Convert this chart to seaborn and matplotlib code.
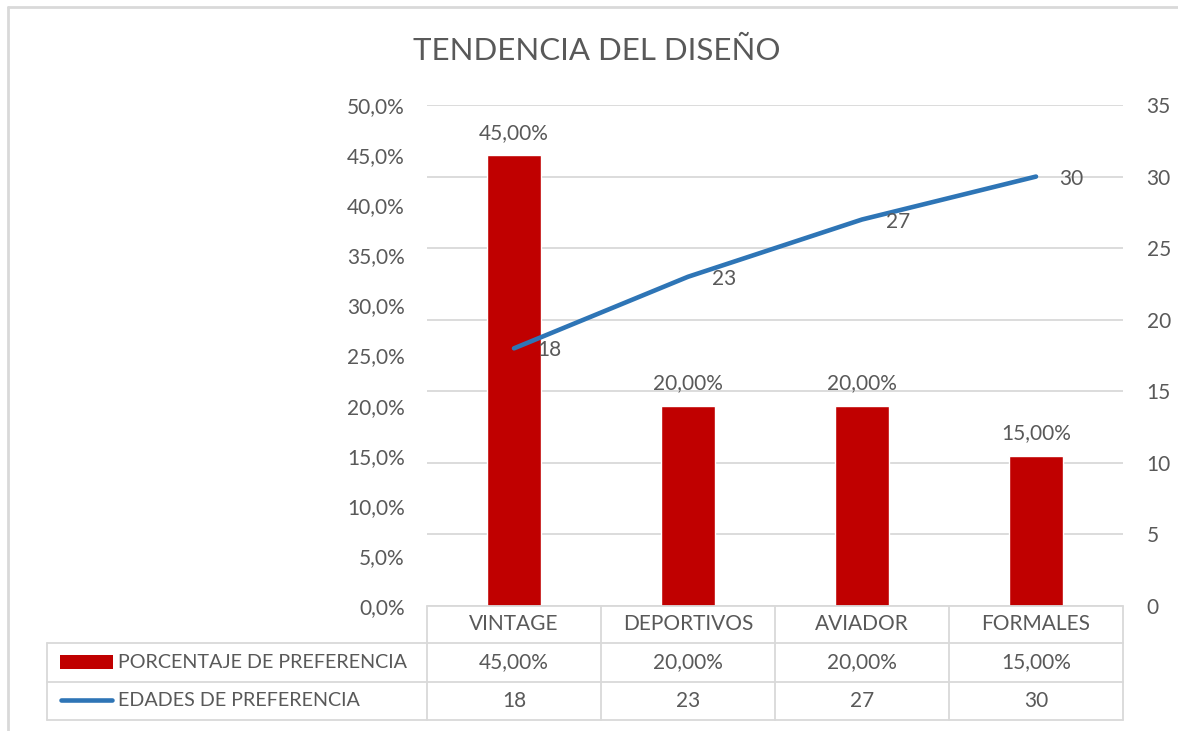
import matplotlib
matplotlib.use("Agg")
import matplotlib.pyplot as plt
import matplotlib.transforms as mtransforms
from matplotlib.lines import Line2D
from matplotlib.patches import Rectangle
import seaborn as sns
import pandas as pd

# data
categorias = ["VINTAGE", "DEPORTIVOS", "AVIADOR", "FORMALES"]
porcentaje = [0.45, 0.20, 0.20, 0.15]
edades = [18, 23, 27, 30]
serie_barras = "PORCENTAJE DE PREFERENCIA"
serie_linea = "EDADES DE PREFERENCIA"

df = pd.DataFrame({"cat": categorias, "pct": porcentaje, "edad": edades})

W, H = 1178, 731
ROJO = "#C00000"
AZUL = "#2E75B6"
GRIS = "#595959"
LINEA = "#D9D9D9"
FS = 15

sns.set_style("white")
plt.rcParams["font.family"] = ["Lato", "DejaVu Sans"]

fig = plt.figure(figsize=(W / 100, H / 100), dpi=100)

def fx(px):
    return px / W

def fy(py):
    return 1 - py / H

rect = [fx(427), fy(606), fx(1123) - fx(427), fy(105) - fy(606)]

# base axes only for the gridlines (right-axis scale)
axg = fig.add_axes(rect)
axg.set_ylim(0, 35)
axg.set_yticks(range(0, 36, 5))
axg.set_xticks([])
axg.tick_params(left=False, labelleft=False)
axg.grid(axis="y", color=LINEA, linewidth=1.3)
for s in axg.spines.values():
    s.set_visible(False)

# bars
ax = fig.add_axes(rect)
ax.patch.set_visible(False)
sns.barplot(data=df, x="cat", y="pct", color=ROJO, width=0.31, saturation=1, ax=ax)
ax.set_xlim(-0.5, 3.5)
ax.set_ylim(0, 0.5)
ax.set_yticks([i * 0.05 for i in range(11)])
ax.set_yticklabels([f"{t * 100:.1f}%".replace(".", ",") for t in ax.get_yticks()])
ax.tick_params(axis="y", length=0, pad=16, labelsize=FS, labelcolor=GRIS)
ax.set_xticks([])
ax.set_xlabel("")
ax.set_ylabel("")
for s in ax.spines.values():
    s.set_visible(False)
ax.bar_label(ax.containers[0],
             labels=[f"{v * 100:.2f}%".replace(".", ",") for v in porcentaje],
             padding=9, fontsize=FS, color=GRIS)

# line on secondary axis
ax2 = ax.twinx()
ax2.patch.set_visible(False)
sns.lineplot(data=df, x="cat", y="edad", color=AZUL, linewidth=3.3, ax=ax2,
             sort=False)
ax2.lines[0].set_solid_capstyle("round")
ax2.set_xlim(-0.5, 3.5)
ax2.set_ylim(0, 35)
ax2.set_yticks(range(0, 36, 5))
ax2.tick_params(axis="y", length=0, pad=17, labelsize=FS, labelcolor=GRIS)
ax2.set_xticks([])
ax2.set_xlabel("")
ax2.set_ylabel("")
for s in ax2.spines.values():
    s.set_visible(False)
for i, v in enumerate(edades):
    ax2.annotate(str(v), (i, v), xytext=(17, -1.5), textcoords="offset points",
                 ha="left", va="center", fontsize=FS, color=GRIS)

fig.text(fx(597), fy(51), "TENDENCIA DEL DISEÑO", ha="center", va="center",
         fontsize=22.5, color=GRIS)

# data table under the chart
mix = mtransforms.blended_transform_factory(ax.transData, fig.transFigure)
filas = [606, 643, 682, 720]
lw = 1.3
fig.add_artist(Line2D([fx(427), fx(1123)], [fy(606), fy(606)], color=LINEA, lw=lw))
for py in filas[1:]:
    fig.add_artist(Line2D([fx(47), fx(1123)], [fy(py), fy(py)], color=LINEA, lw=lw))
fig.add_artist(Line2D([fx(47), fx(47)], [fy(643), fy(720)], color=LINEA, lw=lw))
for xb in [-0.5, 0.5, 1.5, 2.5, 3.5]:
    fig.add_artist(Line2D([xb, xb], [fy(606), fy(720)], color=LINEA, lw=lw,
                          transform=mix))

centros = [(a + b) / 2 for a, b in zip(filas[:-1], filas[1:])]
for i, c in enumerate(categorias):
    fig.text(i, fy(centros[0]), c, transform=mix, ha="center", va="center",
             fontsize=FS, color=GRIS)
    fig.text(i, fy(centros[1]), f"{porcentaje[i] * 100:.2f}%".replace(".", ","),
             transform=mix, ha="center", va="center", fontsize=FS, color=GRIS)
    fig.text(i, fy(centros[2]), str(edades[i]), transform=mix, ha="center",
             va="center", fontsize=FS, color=GRIS)

# legend keys in the table
fig.add_artist(Rectangle((fx(60), fy(669)), fx(113) - fx(60), fy(655) - fy(669),
                         facecolor=ROJO, edgecolor="none"))
fig.add_artist(Line2D([fx(61), fx(112)], [fy(700), fy(700)], color=AZUL, lw=3.3,
                      solid_capstyle="round"))
fig.text(fx(118), fy(centros[1]), serie_barras, ha="left", va="center",
         fontsize=14.2, color=GRIS)
fig.text(fx(118), fy(centros[2]), serie_linea, ha="left", va="center",
         fontsize=14.2, color=GRIS)

# chart frame
fig.add_artist(Line2D([fx(8), fx(8)], [fy(7), 0], color=LINEA, lw=2))
fig.add_artist(Line2D([fx(8), 1], [fy(7), fy(7)], color=LINEA, lw=2))

fig.savefig("out.png", dpi=100)
